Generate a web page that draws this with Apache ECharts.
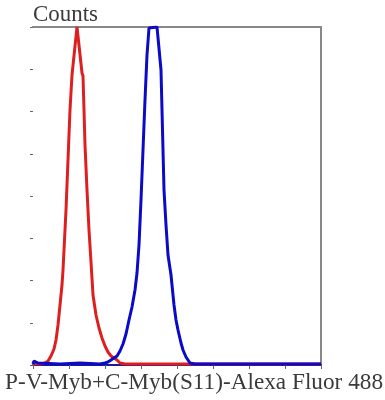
<!DOCTYPE html>
<html>
<head>
<meta charset="utf-8">
<script src="https://cdn.jsdelivr.net/npm/echarts@6/dist/echarts.min.js"></script>
<style>html,body{margin:0;padding:0;background:#fff;}#c{width:385px;height:400px;}</style>
</head>
<body>
<div id="c"></div>
<script>
// Axis ranges (channel units / counts)
var xMin = 0, xMax = 288, xStep = 36;
var yMin = 0, yMax = 338, yStep = 42.25;
var yTitle = 'Counts';
var xTitle = 'P-V-Myb+C-Myb(S11)-Alexa Fluor 488';

// Red histogram (control)
var redX = [0, 7, 12, 15, 18, 21, 23, 25, 27, 29, 30, 31, 33, 35, 37, 39, 44, 49, 50, 51, 52, 54, 56, 58, 60, 63, 66, 69, 72, 75, 78, 81, 84, 87, 92, 288];
var redY = [1, 1, 2, 4, 9, 16, 25, 40, 60, 80, 95, 115, 155, 205, 255, 290, 338, 292, 289, 255, 220, 175, 135, 103, 70, 50, 37, 27, 19, 13, 9, 7, 5, 2, 1, 1];

// Blue histogram (sample)
var blueX = [0, 1, 3, 5, 7, 27, 47, 67, 72, 75, 78, 81, 84, 87, 90, 93, 96, 99, 102, 104, 106, 108, 110, 112, 114, 116, 118, 124, 126, 128, 130, 131, 133, 135, 138, 141, 143, 145, 148, 150, 153, 157, 162, 288];
var blueY = [1, 4, 5, 2, 1, 1, 2, 1, 2, 3, 5, 7, 9, 14, 21, 31, 45, 58, 75, 92, 120, 165, 215, 265, 310, 337, 338, 338, 337, 295, 215, 175, 140, 110, 90, 60, 45, 35, 22, 15, 8, 2, 1, 1];

function pairs(xs, ys) { return xs.map(function (x, i) { return [x, ys[i]]; }); }

var chart = echarts.init(document.getElementById('c'), null, { renderer: 'canvas' });

function fitScale(text, font, target) {
  var ctx = document.createElement('canvas').getContext('2d');
  ctx.font = font;
  return target / ctx.measureText(text).width;
}
var fontFam = '"Liberation Serif", serif';
var yTitleFont = '23px ' + fontFam;
var xTitleFont = '24px ' + fontFam;

chart.setOption({
  animation: false,
  backgroundColor: '#fff',
  grid: { left: 33, right: 64, top: 27, bottom: 35 },
  xAxis: [
    { type: 'value', min: xMin, max: xMax, interval: xStep, position: 'bottom',
      axisLine: { show: true, onZero: false, lineStyle: { color: '#1a1a9a', width: 2 } },
      axisTick: { show: true, length: 4, lineStyle: { color: '#666', width: 1 } },
      axisLabel: { show: false }, splitLine: { show: false } },
    { type: 'value', min: xMin, max: xMax, interval: xStep, position: 'top',
      axisLine: { show: true, onZero: false, lineStyle: { color: '#888', width: 2 } },
      axisTick: { show: false }, axisLabel: { show: false }, splitLine: { show: false } }
  ],
  yAxis: [
    { type: 'value', min: yMin, max: yMax, interval: yStep, position: 'left',
      axisLine: { show: false, onZero: false },
      axisTick: { show: true, length: 3, lineStyle: { color: '#666', width: 1 } },
      axisLabel: { show: false }, splitLine: { show: false } },
    { type: 'value', min: yMin, max: yMax, interval: yStep, position: 'right',
      axisLine: { show: true, onZero: false, lineStyle: { color: '#888', width: 2 } },
      axisTick: { show: false }, axisLabel: { show: false }, splitLine: { show: false } }
  ],
  series: [
    { type: 'line', data: pairs(redX, redY), showSymbol: false, symbol: 'none', clip: true,
      lineStyle: { color: '#dd1f1f', width: 3 }, z: 3 },
    { type: 'line', data: pairs(blueX, blueY), showSymbol: false, symbol: 'none', clip: true,
      lineStyle: { color: '#0a0ac8', width: 3 }, z: 4 }
  ],
  graphic: [
    { type: 'text', x: 33, y: 15, scaleX: fitScale(yTitle, yTitleFont, 65),
      style: { text: yTitle, font: yTitleFont, fill: '#3a3a3a', textAlign: 'left', textVerticalAlign: 'middle' } },
    { type: 'text', x: 5, y: 383, scaleX: fitScale(xTitle, xTitleFont, 378),
      style: { text: xTitle, font: xTitleFont, fill: '#3a3a3a', textAlign: 'left', textVerticalAlign: 'middle' } }
  ]
});
</script>
</body>
</html>
